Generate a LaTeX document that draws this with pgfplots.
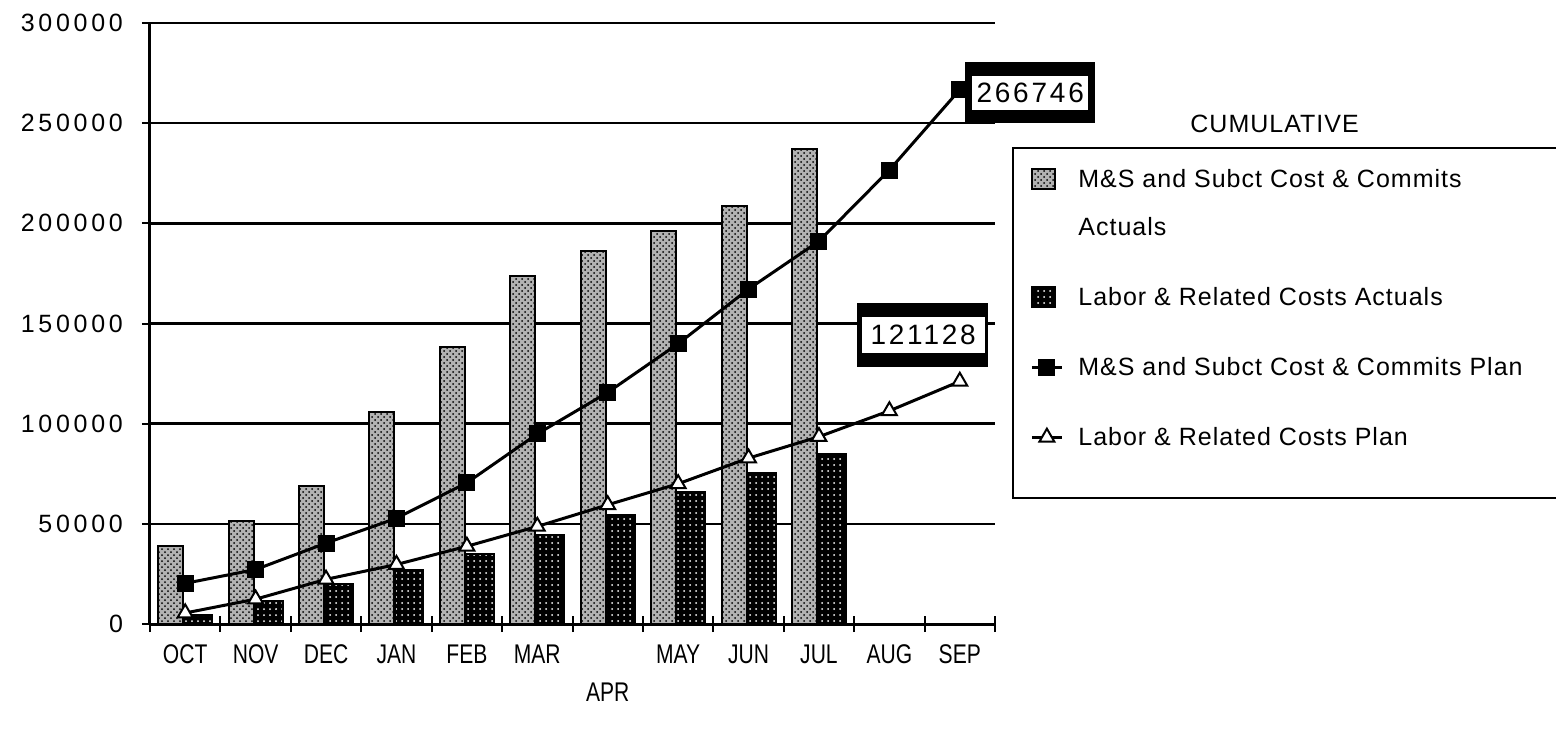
\documentclass[border=0pt]{standalone}
\usepackage{pgfplots}
\pgfplotsset{compat=1.18}
\usepackage{fontspec}
\usepackage{graphicx}
\usetikzlibrary{patterns}
\setmainfont{Liberation Sans}
\newfontfamily\yfont[LetterSpace=15]{Liberation Sans}
\newfontfamily\xfont[FakeStretch=0.78]{Liberation Sans}
\newfontfamily\legfont[LetterSpace=4]{Liberation Sans}
\newfontfamily\boxfont[LetterSpace=10]{Liberation Sans}
\pgfplotsset{
  sqlegend/.style={legend image code/.code={\draw[##1] (0pt,-1pt) rectangle (11.5pt,9pt);}},
  sqlegendtop/.style={legend image code/.code={\draw[##1] (0pt,23pt) rectangle (11.5pt,33pt);}},
  lnlegend/.style={legend image code/.code={\draw[mark repeat=2, mark phase=2, ##1] plot coordinates {(0pt,4.2pt) (7.5pt,4.2pt) (15pt,4.2pt)};}},
}

\begin{document}
\begin{tikzpicture}
\begin{axis}[
  scale only axis, width=422.5pt, height=300.5pt,
  xmin=0, xmax=12, ymin=0, ymax=300000,
  axis lines*=left,
  axis line style={line width=1.5pt},
  clip=false,
  xtick={0,...,12}, xticklabels={},
  extra x ticks={0.5,1.5,...,11.5},
  extra x tick labels={OCT,NOV,DEC,JAN,FEB,MAR,{\raisebox{-28pt}[0pt][0pt]{APR}},MAY,JUN,JUL,AUG,SEP},
  extra x tick style={major tick length=0pt, grid=none},
  ytick={0,50000,...,300000},
  yticklabels={0,50000,100000,150000,200000,250000,300000},
  scaled y ticks=false,
  ymajorgrids,
  grid style={line width=1.2pt, black},
  tick align=center, major tick length=8pt,
  tick style={line width=1pt, black},
  yticklabel style={font=\fontsize{12.5}{15}\yfont, xshift=-6pt},
  xticklabel style={font=\fontsize{13.5}{15}\xfont, yshift=-7pt},
  legend style={draw=none, fill=none, inner sep=0pt, at={(1.0414,0.764)}, anchor=north west,
    font=\fontsize{12.5}{24}\legfont, cells={anchor=base west, align=left}, row sep=20.5pt, column sep=5.5pt},
]
\addplot[ybar, bar width=0.355, bar shift=-0.206, draw=black, line width=1pt, fill=black!30,
  postaction={pattern=crosshatch dots, pattern color=black}, sqlegendtop]
  coordinates {(0.5,39100) (1.5,51500) (2.5,69000) (3.5,105600) (4.5,138300) (5.5,173600)
               (6.5,186000) (7.5,196200) (8.5,208600) (9.5,237100)};
\addlegendentry{M\&S and Subct Cost \& Commits\\Actuals}
\addplot[ybar, bar width=0.41, bar shift=0.178, draw=black, line width=1pt, fill=black,
  postaction={pattern=dots, pattern color=white}, sqlegend]
  coordinates {(0.5,4500) (1.5,11700) (2.5,20100) (3.5,26900) (4.5,35000) (5.5,44400)
               (6.5,54300) (7.5,65900) (8.5,75500) (9.5,84700)};
\addlegendentry{Labor \& Related Costs Actuals}
\addplot[black, line width=1.5pt, mark=square*, mark size=3.5pt, mark options={fill=black, solid}, lnlegend]
  coordinates {(0.5,20300) (1.5,27200) (2.5,40400) (3.5,52800) (4.5,70500) (5.5,94900)
               (6.5,115600) (7.5,139900) (8.5,167200) (9.5,191100) (10.5,226600) (11.5,266746)};
\addlegendentry{M\&S and Subct Cost \& Commits Plan}
\addplot[black, line width=1.5pt, mark=triangle*, mark size=4.3pt, mark options={fill=white, draw=black, line width=1pt, solid}, lnlegend]
  coordinates {(0.5,5500) (1.5,12400) (2.5,22300) (3.5,29700) (4.5,38800) (5.5,48700)
               (6.5,59500) (7.5,70000) (8.5,82800) (9.5,93500) (10.5,106400) (11.5,121128)};
\addlegendentry{Labor \& Related Costs Plan}
% value boxes
\node[fill=black, minimum width=65pt, minimum height=30.5pt, inner sep=0pt] at (axis cs:12.5,265300) {};
\node[fill=white, minimum width=58pt, minimum height=17pt, inner sep=0pt, font=\fontsize{14}{16}\boxfont] at (axis cs:12.5,265300) {266746};
\node[fill=black, minimum width=65.5pt, minimum height=32pt, inner sep=0pt] at (axis cs:10.97,144260) {};
\node[fill=white, minimum width=61.5pt, minimum height=18pt, inner sep=0pt, font=\fontsize{14}{16}\boxfont] at (axis cs:10.98,144260) {121128};
% legend frame and title
\draw[line width=1.2pt] (rel axis cs:1.0213,0.792) rectangle (rel axis cs:1.75,0.2097);
\node[anchor=base west, inner sep=0pt, font=\fontsize{12.5}{15}\legfont] at (rel axis cs:1.2308,0.817) {CUMULATIVE};
\end{axis}
\pgfresetboundingbox
\useasboundingbox (-75pt,-52.5pt) rectangle (703pt,312pt);
\end{tikzpicture}
\end{document}
